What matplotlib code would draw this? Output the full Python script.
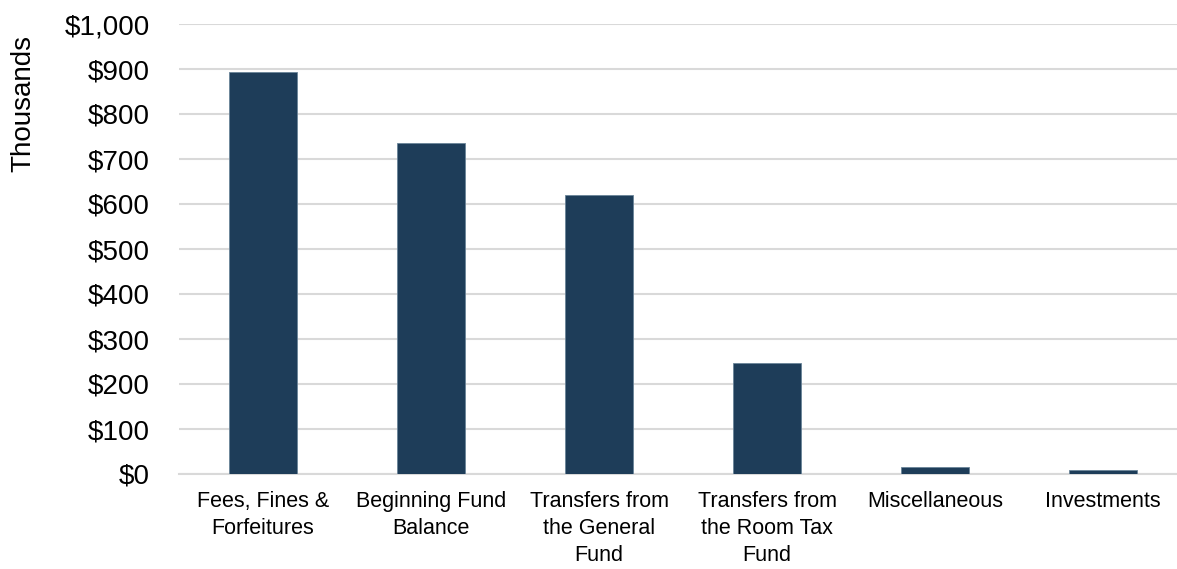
import matplotlib.pyplot as plt
from matplotlib.ticker import FuncFormatter

categories = ['Fees, Fines &\nForfeitures', 'Beginning Fund\nBalance',
              'Transfers from\nthe General\nFund', 'Transfers from\nthe Room Tax\nFund',
              'Miscellaneous', 'Investments']
values = [893, 735, 621, 247, 15, 9]  # thousands of dollars

plt.rcParams['font.family'] = ['Liberation Sans', 'DejaVu Sans']

W, H = 1177, 569
fig = plt.figure(figsize=(W / 100, H / 100), dpi=100)
ax = fig.add_axes([179 / W, 1 - 474 / H, 1 - 179 / W, 450 / H])

x = range(len(values))
ax.bar(x, values, width=0.4, color='#1E3D59', edgecolor='#6A8499', linewidth=0.6, zorder=3)

ax.set_ylim(0, 1000)
ax.set_xlim(-0.5, 5.5 - 10 / 168)
ax.set_yticks(range(0, 1001, 100))
ax.yaxis.set_major_formatter(FuncFormatter(lambda v, p: '${:,.0f}'.format(v)))
ax.grid(axis='y', color='#D9D9D9', linewidth=1.5, zorder=0)
ax.tick_params(axis='y', length=0, labelsize=20, pad=21)
ax.tick_params(axis='x', length=0, pad=12)
ax.set_xticks(list(x))
ax.set_xticklabels(categories, fontsize=15.5, linespacing=1.38)

# Turn off top/right/left axes
for s in ['top', 'right', 'left']:
    ax.spines[s].set_visible(False)
ax.spines['bottom'].set_color('#D9D9D9')
ax.spines['bottom'].set_linewidth(1.5)

ax.set_ylabel('Thousands', fontsize=20)
ax.yaxis.set_label_coords((36 - 179) / (W - 179), (474 - 104) / 450)

fig.savefig('out.png', dpi=100)
